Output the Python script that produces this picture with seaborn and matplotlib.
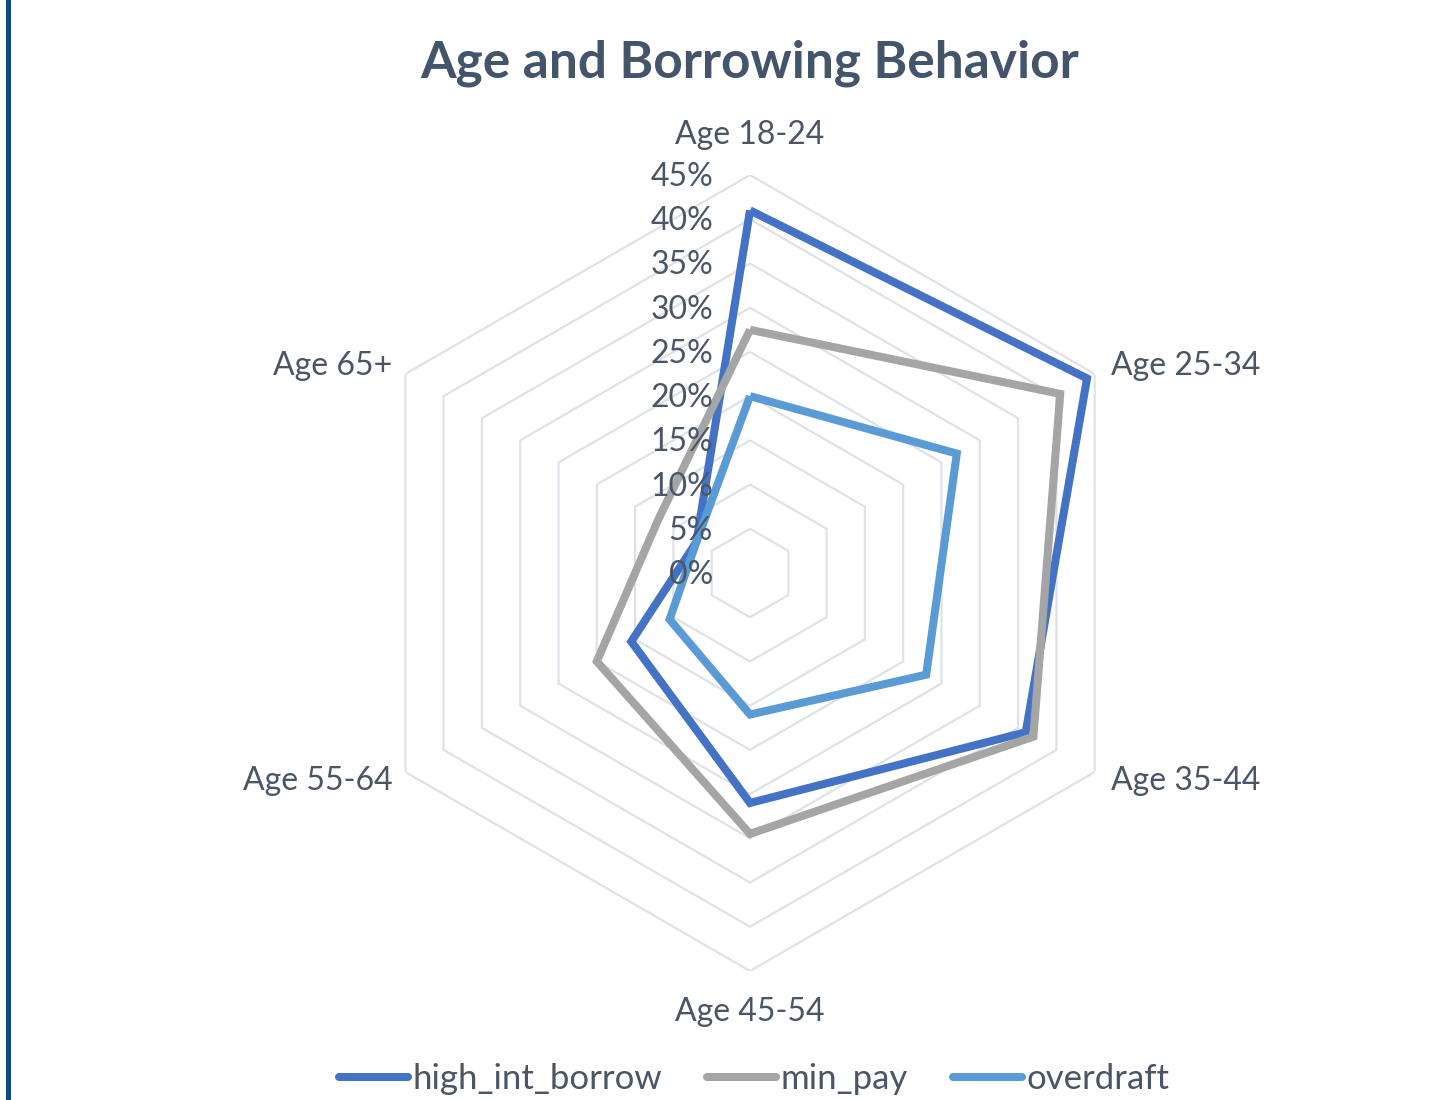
import numpy as np
import pandas as pd
import matplotlib
matplotlib.use("Agg")
import matplotlib.pyplot as plt
import seaborn as sns
from matplotlib.lines import Line2D
from matplotlib.patches import Rectangle

# ---- data ----
categories = ["Age 18-24", "Age 25-34", "Age 35-44", "Age 45-54", "Age 55-64", "Age 65+"]
high_int_borrow = [41, 44, 36, 26, 15.5, 7]
min_pay = [27.5, 40.5, 37, 29.5, 20, 12]
overdraft = [20, 27, 23, 16, 10.5, 7]
series_names = ["high_int_borrow", "min_pay", "overdraft"]
tick_values = [0, 5, 10, 15, 20, 25, 30, 35, 40, 45]
tick_labels = ["0%", "5%", "10%", "15%", "20%", "25%", "30%", "35%", "40%", "45%"]
title = "Age and Borrowing Behavior"

colors = {"high_int_borrow": "#4472C4", "min_pay": "#A5A5A5", "overdraft": "#5B9BD5"}
text_color = "#4a5566"
title_color = "#44546A"
grid_color = "#DEE2E8"

sns.set_theme(style="white")
plt.rcParams["font.family"] = ["Lato", "DejaVu Sans"]

n = len(categories)
angles = np.linspace(0, 2 * np.pi, n, endpoint=False)

rows = []
for name, vals in zip(series_names, [high_int_borrow, min_pay, overdraft]):
    for i in range(n + 1):
        k = i % n
        rows.append({"series": name, "theta": angles[k] if i < n else 2 * np.pi,
                     "value": vals[k], "order": i})
df = pd.DataFrame(rows)

W, H = 1430, 1100
fig = plt.figure(figsize=(W / 100, H / 100), dpi=100)
cx, cy, R = 750, 573, 398
ax = fig.add_axes([(cx - R) / W, (H - cy - R) / H, 2 * R / W, 2 * R / H], projection="polar")
ax.set_theta_zero_location("N")
ax.set_theta_direction(-1)
ax.set_ylim(0, 45)
ax.grid(False)
ax.spines["polar"].set_visible(False)
ax.set_xticks([])
ax.set_yticks([])
ax.patch.set_alpha(0)

# hexagonal grid
hex_t = np.append(angles, 2 * np.pi)
for lv in tick_values[1:]:
    ax.plot(hex_t, [lv] * (n + 1), color=grid_color, lw=1.6, zorder=1, solid_joinstyle="miter")

sns.lineplot(data=df, x="theta", y="value", hue="series", hue_order=series_names,
             palette=colors, sort=False, estimator=None, units="series",
             linewidth=5.8, ax=ax, legend=True, zorder=3)
for ln in ax.get_lines():
    ln.set_solid_joinstyle("miter")
    ln.set_solid_capstyle("butt")

handles, labels = ax.get_legend_handles_labels()
if ax.get_legend() is not None:
    ax.get_legend().remove()
ax.set_xlabel("")
ax.set_ylabel("")
ax.set_ylim(0, 45)

# radial tick labels
for v, lab in zip(tick_values, tick_labels):
    ax.annotate(lab, xy=(0, v), xytext=(-37, -2), textcoords="offset pixels",
                ha="right", va="center", fontsize=23, color=text_color, zorder=5)

# category labels
offsets = [(0, 40, "center"), (16, 8, "left"), (16, -9, "left"),
           (0, -41, "center"), (-13, -9, "right"), (-13, 8, "right")]
for a, cat, (dx, dy, ha) in zip(angles, categories, offsets):
    ax.annotate(cat, xy=(a, 45), xytext=(dx, dy), textcoords="offset pixels",
                ha=ha, va="center", fontsize=23, color=text_color, annotation_clip=False)

fig.text(cx / W, 1 - 63 / H, title, ha="center", va="center", fontsize=37,
         fontweight="bold", color=title_color)

new_handles = [Line2D([0], [0], color=colors[l], lw=5.8, solid_capstyle="round") for l in labels]
leg = fig.legend(new_handles, labels, loc="center", bbox_to_anchor=(754 / W, 1 - 1079 / H),
                 ncol=3, frameon=False, fontsize=25, handlelength=2.0, handletextpad=0.12,
                 columnspacing=1.3, labelcolor=text_color, borderpad=0.1)

fig.add_artist(Rectangle((6 / W, 0), 5 / W, 1, transform=fig.transFigure,
                         facecolor="#0f4a7a", edgecolor="none"))

fig.savefig("out.png", dpi=100, facecolor="white")
